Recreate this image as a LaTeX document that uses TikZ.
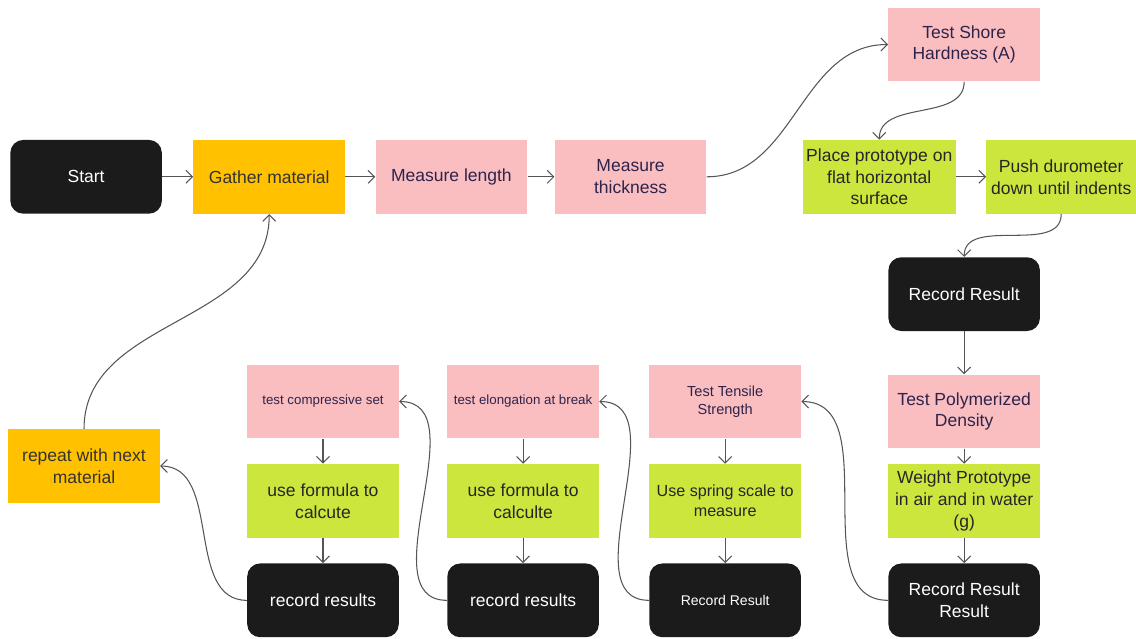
\documentclass[tikz,border=0pt]{standalone}
\usepackage{fontspec}
\setmainfont{Liberation Sans}
\usepackage{xcolor}
\usetikzlibrary{arrows.meta,positioning,calc}

\definecolor{recblack}{RGB}{27,27,27}
\definecolor{matorange}{RGB}{255,193,0}
\definecolor{testpink}{RGB}{250,190,193}
\definecolor{stepgreen}{RGB}{205,230,62}
\definecolor{pinktext}{RGB}{45,35,75}
\definecolor{linegray}{RGB}{85,85,85}

\begin{document}
\begin{tikzpicture}[
  box/.style={minimum width=3.04cm, minimum height=1.48cm, align=center, inner sep=2pt, font=\fontsize{10}{12.5}\selectfont},
  rec_box/.style={box, fill=recblack, text=white, rounded corners=0.26cm},
  test_box/.style={box, fill=testpink, text=pinktext},
  step_box/.style={box, fill=stepgreen, text=black!85},
  mat_box/.style={box, fill=matorange, text=black!80},
  arrow/.style={-{Straight Barb[length=1.3mm,width=2.6mm]}, draw=linegray, line width=0.6pt}
]
  % top row
  \node[rec_box] (start) {Start};
  \node[mat_box, right=0.62cm of start] (gather) {Gather material};
  \node[test_box, right=0.6cm of gather] (length) {Measure length};
  \node[test_box, right=0.54cm of length] (thickness) {Measure\\thickness};
  \node[step_box, right=1.92cm of thickness] (place) {Place prototype on\\flat horizontal\\surface};
  \node[step_box, right=0.6cm of place, minimum width=3.0cm] (push) {Push durometer\\down until indents};
  \coordinate (gap_top) at ($(place.north east)!0.5!(push.north west)+(-0.14,0)$);
  \coordinate (gap_bot) at ($(place.south east)!0.5!(push.south west)+(-0.14,0)$);
  \node[test_box, above=1.16cm of gap_top] (shore) {Test Shore\\Hardness (A)};

  % density column
  \node[rec_box, below=0.86cm of gap_bot] (rec_shore) {Record Result};
  \node[test_box, below=0.86cm of rec_shore] (density) {Test Polymerized\\Density};
  \node[step_box, below=0.3cm of density] (weight) {Weight Prototype\\in air and in water\\(g)};
  \node[rec_box, below=0.5cm of weight] (rec_density) {Record Result\\Result};

  % bottom columns
  \node[rec_box, left=1.74cm of rec_density, font=\fontsize{8}{10}\selectfont] (rec_tensile) {Record Result};
  \node[step_box, above=0.5cm of rec_tensile, font=\fontsize{9.2}{11.5}\selectfont] (spring) {Use spring scale to\\measure};
  \node[test_box, above=0.5cm of spring, font=\fontsize{8.3}{10.5}\selectfont] (tensile) {Test Tensile\\Strength};
  \node[rec_box, left=1.0cm of rec_tensile] (rec_elong) {record results};
  \node[step_box, above=0.5cm of rec_elong] (formula_elong) {use formula to\\calculte};
  \node[test_box, above=0.5cm of formula_elong, font=\fontsize{7.6}{9}\selectfont] (elong) {test elongation at break};
  \node[rec_box, left=0.96cm of rec_elong] (rec_comp) {record results};
  \node[step_box, above=0.5cm of rec_comp] (formula_comp) {use formula to\\calcute};
  \node[test_box, above=0.5cm of formula_comp, font=\fontsize{7.6}{9}\selectfont] (comp) {test compressive set};
  \node[mat_box, above left=1.2cm and 1.74cm of rec_comp] (repeat) {repeat with next\\material};

  \useasboundingbox ($(start.north west)+(-0.2,2.8)$) rectangle ++(22.72,-12.8);

  \draw[arrow] (start) -- (gather);
  \draw[arrow] (gather) -- (length);
  \draw[arrow] (length) -- (thickness);
  \draw[arrow] (thickness.east) to[out=0, in=180] (shore.west);
  \draw[arrow] (shore.south) to[out=-90, in=90] (place.north);
  \draw[arrow] (place) -- (push);
  \draw[arrow] (push.south) to[out=-90, in=90] (rec_shore.north);
  \draw[arrow] (rec_shore) -- (density);
  \draw[arrow] (density) -- (weight);
  \draw[arrow] (weight) -- (rec_density);
  \draw[arrow] (rec_density.west) to[out=180, in=0] (tensile.east);
  \draw[arrow] (tensile) -- (spring);
  \draw[arrow] (spring) -- (rec_tensile);
  \draw[arrow] (rec_tensile.west) to[out=180, in=0] (elong.east);
  \draw[arrow] (elong) -- (formula_elong);
  \draw[arrow] (formula_elong) -- (rec_elong);
  \draw[arrow] (rec_elong.west) to[out=180, in=0] (comp.east);
  \draw[arrow] (comp) -- (formula_comp);
  \draw[arrow] (formula_comp) -- (rec_comp);
  \draw[arrow] (rec_comp.west) to[out=180, in=0] (repeat.east);
  \draw[arrow] (repeat.north) to[out=90, in=-90] (gather.south);
\end{tikzpicture}
\end{document}
